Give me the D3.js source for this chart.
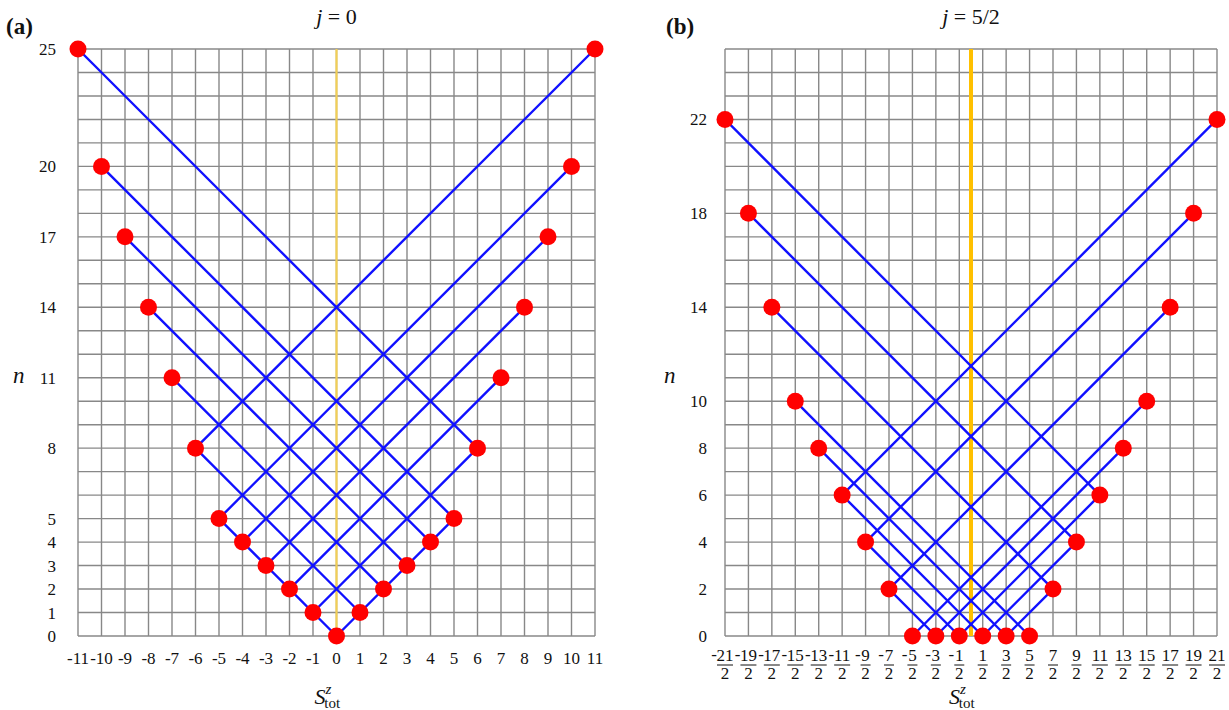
<!DOCTYPE html>
<html>
<head>
<meta charset="utf-8">
<script src="https://cdn.jsdelivr.net/npm/d3@7"></script>
<style>
  body { margin: 0; background: #fff; }
  svg text { font-family: 'Liberation Serif', 'Times New Roman', Times, serif; }
</style>
</head>
<body>
<script>
// panel (a): j = 0
var xTicksA = [-11,-10,-9,-8,-7,-6,-5,-4,-3,-2,-1,0,1,2,3,4,5,6,7,8,9,10,11];
var yTicksA = [0,1,2,3,4,5,8,11,14,17,20,25];
var dotsXA = [-11,-10,-9,-8,-7,-6,-5,-4,-3,-2,-1,0,1,2,3,4,5,6,7,8,9,10,11];
var dotsYA = [25,20,17,14,11,8,5,4,3,2,1,0,1,2,3,4,5,8,11,14,17,20,25];
// segments: start x, start n, end x, end n
var segsA = [
  [-11,25,6,8],[-10,20,5,5],[-9,17,4,4],[-8,14,3,3],[-7,11,2,2],[-6,8,1,1],[-5,5,0,0],
  [11,25,-6,8],[10,20,-5,5],[9,17,-4,4],[8,14,-3,3],[7,11,-2,2],[6,8,-1,1],[5,5,0,0]
];

// panel (b): j = 5/2 (x values are numerators over 2)
var xTicksB = [-21,-19,-17,-15,-13,-11,-9,-7,-5,-3,-1,1,3,5,7,9,11,13,15,17,19,21];
var yTicksB = [0,2,4,6,8,10,14,18,22];
var dotsXB = [-21,-19,-17,-15,-13,-11,-9,-7,-5,-3,-1,1,3,5,7,9,11,13,15,17,19,21];
var dotsYB = [22,18,14,10,8,6,4,2,0,0,0,0,0,0,2,4,6,8,10,14,18,22];
var segsB = [
  [-21,22,11,6],[-19,18,9,4],[-17,14,7,2],[-15,10,5,0],[-13,8,3,0],[-11,6,1,0],[-9,4,-1,0],[-7,2,-3,0],
  [21,22,-11,6],[19,18,-9,4],[17,14,-7,2],[15,10,-5,0],[13,8,-3,0],[11,6,-1,0],[9,4,1,0],[7,2,3,0]
];

var WIDTH = 1229, HEIGHT = 710;
var svg = d3.select('body').append('svg')
  .attr('width', WIDTH).attr('height', HEIGHT)
  .attr('fill', '#111');

var y = d3.scaleLinear().domain([0, 25]).range([636, 49]);
var yGrid = d3.range(0, 26);

function panel(cfg) {
  var g = svg.append('g');
  var x = cfg.x;
  // grid
  g.selectAll('line.v').data(cfg.gridX).enter().append('line')
    .attr('x1', x).attr('x2', x).attr('y1', y(0)).attr('y2', y(25))
    .attr('stroke', '#888').attr('stroke-width', 1.4);
  g.selectAll('line.h').data(yGrid).enter().append('line')
    .attr('x1', x(cfg.gridX[0])).attr('x2', x(cfg.gridX[cfg.gridX.length - 1]))
    .attr('y1', y).attr('y2', y)
    .attr('stroke', '#888').attr('stroke-width', 1.4);
  // zero line
  g.append('line')
    .attr('x1', x(0)).attr('x2', x(0)).attr('y1', y(0)).attr('y2', y(25))
    .attr('stroke', cfg.zeroColor).attr('stroke-width', cfg.zeroWidth);
  // diagonals
  g.selectAll('line.s').data(cfg.segs).enter().append('line')
    .attr('x1', function(d){ return x(d[0]); })
    .attr('y1', function(d){ return y(d[1]); })
    .attr('x2', function(d){ return x(d[2]); })
    .attr('y2', function(d){ return y(d[3]); })
    .attr('stroke', '#1010ff').attr('stroke-width', 2.4);
  // dots
  g.selectAll('circle').data(cfg.dotsX).enter().append('circle')
    .attr('cx', function(d){ return x(d); })
    .attr('cy', function(d, i){ return y(cfg.dotsY[i]); })
    .attr('r', 8.5).attr('fill', '#ff0000');
  // y tick labels
  g.selectAll('text.yt').data(cfg.yTicks).enter().append('text')
    .attr('x', cfg.yLabelX).attr('y', function(d){ return y(d) + 6; })
    .attr('text-anchor', 'end').attr('font-size', 17)
    .text(function(d){ return d; });
  // y axis label
  g.append('text').attr('x', cfg.nX).attr('y', 383)
    .attr('font-size', 23).attr('font-style', 'italic').text('n');
  // x axis label S^z_tot
  var s = g.append('text').attr('x', x(0) - 22).attr('y', 704).attr('font-size', 22);
  s.append('tspan').attr('font-style', 'italic').text('S');
  s.append('tspan').attr('font-style', 'italic').attr('font-size', 15).attr('dy', -10).text('z');
  s.append('tspan').attr('font-size', 15).attr('dx', -7).attr('dy', 14).text('tot');
  // title
  var t = g.append('text').attr('x', x(0)).attr('y', 24)
    .attr('text-anchor', 'middle').attr('font-size', 22);
  t.append('tspan').attr('font-style', 'italic').text('j');
  t.append('tspan').text(' = ' + cfg.title);
  // panel tag
  g.append('text').attr('x', cfg.tagX).attr('y', 34)
    .attr('font-size', 23).attr('font-weight', 'bold').text(cfg.tag);
  return g;
}

// panel (a)
var xa = d3.scaleLinear().domain([-11, 11]).range([78, 595]);
var ga = panel({
  x: xa, gridX: xTicksA, segs: segsA, dotsX: dotsXA, dotsY: dotsYA,
  yTicks: yTicksA, yLabelX: 56, nX: 13, zeroColor: '#f2cf55', zeroWidth: 2.2,
  title: '0', tag: '(a)', tagX: 6
});
ga.selectAll('text.xt').data(xTicksA).enter().append('text')
  .attr('x', xa).attr('y', 664).attr('text-anchor', 'middle').attr('font-size', 17)
  .text(function(d){ return d; });

// panel (b)
var xbRaw = d3.scaleLinear().domain([-10.5, 10.5]).range([725, 1217]);
var xb = function(d){ return xbRaw(d / 2); };
var gb = panel({
  x: xb, gridX: xTicksB, segs: segsB, dotsX: dotsXB, dotsY: dotsYB,
  yTicks: yTicksB, yLabelX: 707, nX: 664, zeroColor: '#ffc000', zeroWidth: 4,
  title: '5/2', tag: '(b)', tagX: 666
});
var fr = gb.selectAll('g.xt').data(xTicksB).enter().append('g')
  .attr('transform', function(d){ return 'translate(' + xb(d) + ',0)'; });
fr.append('text').attr('x', 0).attr('y', 661).attr('text-anchor', 'middle').attr('font-size', 17)
  .text(function(d){ return Math.abs(d); });
fr.append('line').attr('x1', function(d){ return Math.abs(d) >= 10 ? -8 : -5; })
  .attr('x2', function(d){ return Math.abs(d) >= 10 ? 8 : 5; })
  .attr('y1', 665).attr('y2', 665)
  .attr('stroke', '#111').attr('stroke-width', 1);
fr.append('text').attr('x', 0).attr('y', 679).attr('text-anchor', 'middle').attr('font-size', 17)
  .text('2');
fr.filter(function(d){ return d < 0; }).append('text')
  .attr('x', function(d){ return Math.abs(d) >= 10 ? -8 : -5; })
  .attr('y', 660).attr('text-anchor', 'end').attr('font-size', 17)
  .text('-');
</script>
</body>
</html>
